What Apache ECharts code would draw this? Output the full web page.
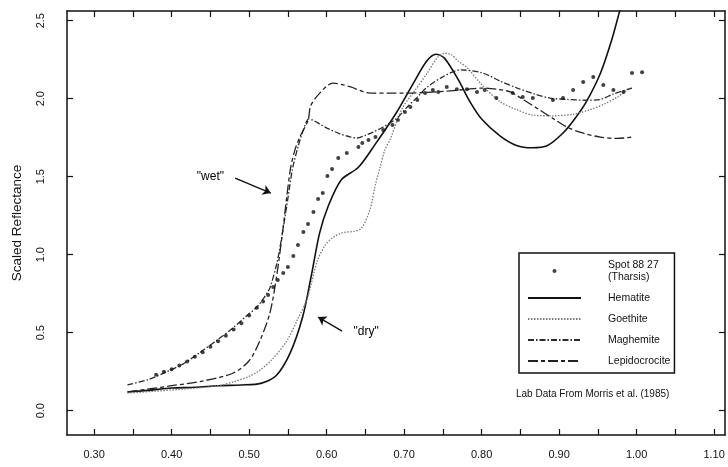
<!DOCTYPE html>
<html><head><meta charset="utf-8">
<script src="https://cdn.jsdelivr.net/npm/echarts@6/dist/echarts.min.js"></script>
<style>html,body{margin:0;padding:0;background:#fff}#c{width:728px;height:467px}</style>
</head><body><div id="c"></div>
<script>
// ---- data (wavelength in micrometres, scaled reflectance) ----
const xLabelValues = [0.30, 0.40, 0.50, 0.60, 0.70, 0.80, 0.90, 1.00, 1.10];
const xTickValues = [0.30,0.35,0.40,0.45,0.50,0.55,0.60,0.65,0.70,0.75,0.80,0.85,0.90,0.95,1.00,1.05,1.10];
const yTickValues = [0.0, 0.5, 1.0, 1.5, 2.0, 2.5];

const spot8827 = [
  [0.38,0.23],[0.39,0.25],[0.40,0.265],[0.41,0.29],[0.42,0.315],[0.43,0.345],[0.44,0.375],[0.45,0.41],
  [0.46,0.445],[0.47,0.48],[0.48,0.52],[0.49,0.56],[0.50,0.61],[0.51,0.66],[0.518,0.70],
  [0.5245,0.741],[0.531,0.793],[0.537,0.838],[0.544,0.882],[0.550,0.921],[0.557,0.991],[0.563,1.062],
  [0.570,1.145],[0.576,1.197],[0.583,1.273],[0.589,1.357],[0.595,1.395],[0.601,1.504],[0.607,1.549],
  [0.615,1.62],[0.626,1.652],[0.641,1.69],[0.646,1.716],[0.654,1.735],[0.663,1.754],[0.673,1.799],
  [0.685,1.831],[0.692,1.863],[0.701,1.914],[0.708,1.947],[0.717,1.991],[0.727,2.036],[0.737,2.055],
  [0.744,2.043],[0.755,2.075],[0.768,2.06],[0.781,2.06],[0.794,2.043],[0.804,2.055],[0.819,2.004],
  [0.840,2.036],[0.853,2.01],[0.866,2.004],[0.892,1.991],[0.905,2.004],[0.918,2.055],[0.931,2.107],
  [0.944,2.139],[0.957,2.088],[0.970,2.055],[0.983,2.043],[0.994,2.165],[1.007,2.17]
];
const hematite = [
  [0.343,0.12],[0.37,0.13],[0.40,0.145],[0.43,0.15],[0.46,0.16],[0.49,0.165],[0.515,0.175],[0.535,0.225],
  [0.553,0.37],[0.569,0.60],[0.580,0.86],[0.591,1.14],[0.602,1.31],[0.619,1.48],[0.641,1.56],[0.663,1.71],
  [0.690,1.91],[0.712,2.10],[0.729,2.24],[0.741,2.285],[0.752,2.26],[0.770,2.12],[0.785,1.98],[0.800,1.87],
  [0.824,1.76],[0.845,1.70],[0.865,1.685],[0.885,1.70],[0.905,1.78],[0.920,1.87],[0.935,1.98],[0.953,2.16],
  [0.968,2.38],[0.979,2.58]
];
const goethite = [
  [0.343,0.113],[0.38,0.125],[0.42,0.14],[0.46,0.16],[0.48,0.185],[0.50,0.22],[0.514,0.26],[0.53,0.33],
  [0.549,0.45],[0.562,0.58],[0.575,0.72],[0.588,0.96],[0.598,1.06],[0.608,1.11],[0.62,1.14],[0.635,1.15],
  [0.645,1.17],[0.656,1.29],[0.663,1.45],[0.669,1.56],[0.675,1.67],[0.682,1.74],[0.691,1.86],[0.699,1.95],
  [0.712,2.04],[0.730,2.165],[0.743,2.265],[0.752,2.29],[0.760,2.285],[0.770,2.24],[0.781,2.20],[0.80,2.09],
  [0.824,1.98],[0.845,1.93],[0.866,1.895],[0.89,1.89],[0.918,1.90],[0.94,1.93],[0.96,1.97],[0.975,2.01],
  [0.992,2.07]
];
const maghemite = [
  [0.343,0.165],[0.37,0.20],[0.394,0.25],[0.415,0.30],[0.437,0.375],[0.458,0.45],[0.479,0.53],[0.495,0.60],
  [0.510,0.665],[0.520,0.73],[0.527,0.79],[0.536,0.95],[0.543,1.14],[0.550,1.36],[0.556,1.55],[0.563,1.69],
  [0.570,1.80],[0.577,1.87],[0.583,1.86],[0.592,1.835],[0.601,1.81],[0.617,1.775],[0.630,1.755],[0.639,1.748],
  [0.650,1.765],[0.660,1.786],[0.673,1.818],[0.691,1.876],[0.704,1.947],[0.717,2.01],[0.730,2.075],[0.750,2.14],
  [0.772,2.184],[0.801,2.165],[0.825,2.11],[0.846,2.068],[0.868,2.03],[0.888,2.004],[0.91,1.995],[0.935,1.99],
  [0.953,1.995],[0.970,2.03],[0.994,2.068]
];
const lepidocrocite = [
  [0.343,0.12],[0.40,0.16],[0.44,0.19],[0.479,0.24],[0.50,0.32],[0.514,0.45],[0.527,0.63],[0.536,0.88],
  [0.543,1.14],[0.553,1.54],[0.559,1.67],[0.566,1.76],[0.576,1.86],[0.579,1.95],[0.585,2.00],[0.592,2.04],
  [0.600,2.08],[0.608,2.10],[0.62,2.09],[0.631,2.075],[0.656,2.036],[0.682,2.036],[0.70,2.036],[0.73,2.04],
  [0.76,2.05],[0.78,2.06],[0.801,2.068],[0.82,2.06],[0.837,2.043],[0.855,1.99],[0.875,1.927],[0.893,1.87],
  [0.910,1.818],[0.93,1.78],[0.953,1.754],[0.975,1.745],[0.995,1.754]
];
const noteTexts = [[0.450, 1.50, '"wet"'], [0.651, 0.504, '"dry"']];
const noteArrows = [
  [[0.482, 1.491], [0.528, 1.395]],
  [[0.620, 0.510], [0.589, 0.600]]
];
const spotName = 'Spot 88 27\n(Tharsis)';
const lineNames = ['Hematite', 'Goethite', 'Maghemite', 'Lepidocrocite'];
const sourceNote = 'Lab Data From Morris et al. (1985)';

// ---- chart ----
const ink = '#111';
const font = 'Liberation Sans, Arial, sans-serif';
const chart = echarts.init(document.getElementById('c'), null, {renderer: 'canvas'});
const axisLineStyle = {color: ink, width: 1.5};
function xAx(pos, labels) {
  return {
    type: 'value', position: pos, min: 0.265, max: 1.114,
    axisLine: {show: true, onZero: false, lineStyle: axisLineStyle},
    axisTick: {show: true, inside: true, length: 6, customValues: xTickValues, lineStyle: {color: ink, width: 1.2}},
    axisLabel: labels ? {show: true, customValues: xLabelValues, formatter: v => v.toFixed(2), margin: 14,
      fontSize: 11, color: ink, fontFamily: font} : {show: false},
    splitLine: {show: false}
  };
}
function yAx(pos, labels) {
  const a = {
    type: 'value', position: pos, min: -0.156, max: 2.562,
    axisLine: {show: true, onZero: false, lineStyle: axisLineStyle},
    axisTick: {show: true, inside: true, length: 6, customValues: yTickValues, lineStyle: {color: ink, width: 1.2}},
    axisLabel: labels ? {show: true, customValues: yTickValues, formatter: v => v.toFixed(1), rotate: 90,
      margin: 21, fontSize: 11, color: ink, fontFamily: font} : {show: false},
    splitLine: {show: false}
  };
  if (labels) {
    a.name = 'Scaled Reflectance'; a.nameLocation = 'middle'; a.nameGap = 43; a.nameRotate = 90;
    a.nameTextStyle = {fontSize: 13.5, color: ink, fontFamily: font};
  }
  return a;
}
function lineSeries(name, data, color, width, type) {
  return {name, type: 'line', data, symbol: 'none', smooth: 0.3, clip: true, z: 3,
    lineStyle: {color, width, type}, itemStyle: {color}};
}
chart.setOption({
  animation: false,
  backgroundColor: '#fff',
  grid: {left: 67, right: 3, top: 11, bottom: 32, containLabel: false},
  xAxis: [xAx('bottom', true), xAx('top', false)],
  yAxis: [yAx('left', true), yAx('right', false)],
  legend: {
    data: [{name: spotName}].concat(lineNames.map(n => ({name: n, itemStyle: {opacity: 0}}))),
    orient: 'vertical', left: 519, top: 253,
    itemWidth: 53, itemHeight: 4, itemGap: 9,
    padding: [6, 4, 6, 8],
    borderColor: ink, borderWidth: 1.5, backgroundColor: '#fff',
    textStyle: {fontSize: 10.5, color: ink, fontFamily: font, padding: [0, 0, 0, 22], lineHeight: 12},
    selectedMode: false
  },
  graphic: [{type: 'text', left: 516, top: 389, style: {text: sourceNote, fontSize: 10, fill: ink, fontFamily: font}}],
  series: [
    lineSeries('Hematite', hematite, '#111', 1.6, 'solid'),
    lineSeries('Goethite', goethite, '#7a7a7a', 1.3, [1.5, 1.5]),
    lineSeries('Maghemite', maghemite, '#2a2a2a', 1.3, [6, 2, 1.5, 2]),
    lineSeries('Lepidocrocite', lepidocrocite, '#222', 1.3, [10, 3, 4, 3]),
    {name: spotName, type: 'scatter', data: spot8827, symbol: 'circle', symbolSize: 4, z: 5,
      itemStyle: {color: '#111'}},
    {name: 'notes', type: 'scatter', data: noteTexts, symbolSize: 1, z: 6,
      itemStyle: {color: 'rgba(0,0,0,0)'},
      label: {show: true, position: 'inside', formatter: p => p.data[2], fontSize: 12, color: '#000',
        fontFamily: font, opacity: 1},
      markLine: {silent: true, symbol: ['none', 'arrow'], symbolSize: 8,
        lineStyle: {color: ink, width: 1.3, type: 'solid'}, label: {show: false},
        data: noteArrows.map(a => [{coord: a[0]}, {coord: a[1]}])}
    }
  ]
});
</script></body></html>
